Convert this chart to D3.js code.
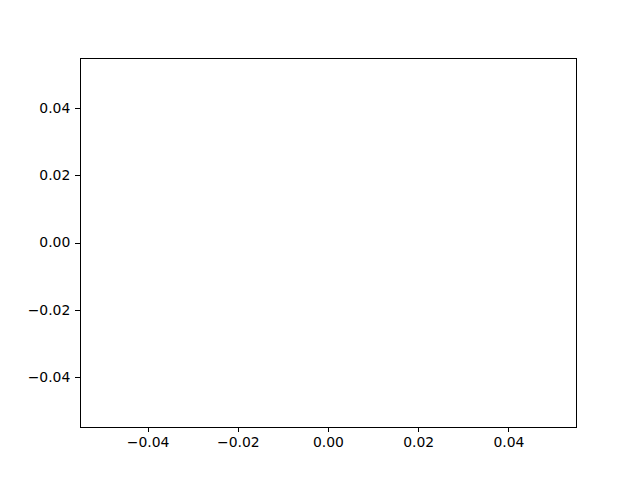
<!DOCTYPE html>
<html>
<head>
<meta charset="utf-8">
<script src="https://cdn.jsdelivr.net/npm/d3@7"></script>
<style>
  body { margin: 0; background: #fff; }
  text { font-family: "DejaVu Sans", sans-serif; }
</style>
</head>
<body>
<div id="chart"></div>
<script>
// empty plot: no series, only the default axis range and ticks
let xDomain = [-0.055, 0.055];
let yDomain = [-0.055, 0.055];
let xTicks = [-0.04, -0.02, 0.00, 0.02, 0.04];
let yTicks = [-0.04, -0.02, 0.00, 0.02, 0.04];

let svgWidth = 640;
let svgHeight = 480;

let margin = { top: 58, right: 64, bottom: 53, left: 80 };
let width = svgWidth - margin.left - margin.right;
let height = svgHeight - margin.top - margin.bottom;

let svg = d3.select("#chart")
  .append("svg")
  .attr("width", svgWidth)
  .attr("height", svgHeight);

let chartGroup = svg.append("g")
  .attr("transform", `translate(${margin.left}, ${margin.top})`);

let xScale = d3.scaleLinear().domain(xDomain).range([0, width]);
let yScale = d3.scaleLinear().domain(yDomain).range([height, 0]);

// matplotlib style minus sign
let fmt = d => d3.format(".2f")(d).replace("-", "\u2212");

let bottomAxis = d3.axisBottom(xScale)
  .tickValues(xTicks)
  .tickFormat(fmt)
  .tickSize(4.86)
  .tickPadding(4.86);

let leftAxis = d3.axisLeft(yScale)
  .tickValues(yTicks)
  .tickFormat(fmt)
  .tickSize(4.86)
  .tickPadding(4.86);

let xAxis = chartGroup.append("g")
  .attr("transform", `translate(0, ${height})`)
  .call(bottomAxis);

let yAxis = chartGroup.append("g")
  .call(leftAxis);

[xAxis, yAxis].forEach(a => {
  a.select(".domain").remove();
  a.selectAll(".tick line")
    .attr("stroke", "#000")
    .attr("stroke-width", 1)
    .attr("shape-rendering", "crispEdges");
  a.selectAll(".tick text")
    .attr("fill", "#000")
    .style("font-family", "'DejaVu Sans', sans-serif")
    .style("font-size", "13.9px");
});

// axes frame
chartGroup.append("rect")
  .attr("x", 0)
  .attr("y", 0)
  .attr("width", width)
  .attr("height", height)
  .attr("fill", "none")
  .attr("stroke", "#000")
  .attr("stroke-width", 1)
  .attr("shape-rendering", "crispEdges");
</script>
</body>
</html>
